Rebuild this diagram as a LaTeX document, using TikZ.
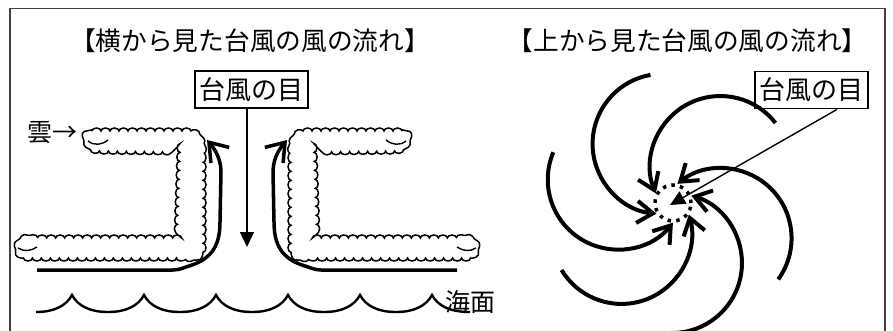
\documentclass[tikz,border=0pt]{standalone}
\usepackage{fontspec}
\newfontfamily\jpfont{Noto Sans CJK JP}
\usetikzlibrary{arrows.meta,decorations.pathmorphing,calc}

% outline of the left cloud (a "reversed C" of cumulus)
\newcommand\cloudoutline{(92,131) -- (188,131) .. controls (198,132) and (203,140) .. (203,152)
  -- (203,244) .. controls (203,254) and (198,258) .. (188,258)
  -- (30,258) .. controls (14,258) and (14,238) .. (30,238)
  -- (177,238) -- (180,152) -- (102,151) .. controls (84,151) and (82,131) .. (92,131) -- cycle}
% small curls at the ends of the cloud arms
\newcommand\cloudcurls{(88,141) .. controls (94,146) and (102,145) .. (108,140)
  (18,248) .. controls (24,252) and (31,251) .. (37,247)}
% inflow along the sea surface and up the eye wall
\newcommand\flowpath{(37,270) -- (173,270) .. controls (180,270) and (185,267) .. (192,265)
  .. controls (212,258) and (220,245) .. (220,222) -- (221,172)
  .. controls (221,157) and (213,147) .. (207,140)}
% one spiral band of the typhoon seen from above, starting at angle #1
\newcommand\windarm[1]{%
  \draw[wind] (#1:130) arc[start angle=#1, end angle=#1+165, radius=70];}

\begin{document}
\begin{tikzpicture}[x=1pt,y=-1pt,
  frame/.style={draw=black!75, line width=1.4pt},
  title/.style={font=\jpfont\fontsize{25.7}{30}\selectfont, inner sep=0pt},
  label/.style={font=\jpfont\fontsize{25}{30}\selectfont, inner sep=0pt},
  eyebox/.style={draw, line width=1.8pt, font=\jpfont\fontsize{26}{30}\selectfont,
    minimum width=113pt, minimum height=37pt, inner sep=0pt},
  pointer/.style={line width=1.4pt, -{Triangle[length=15pt,width=14pt]}},
  cloudline/.style={line width=1.5pt, decorate,
    decoration={bumps, segment length=18pt, amplitude=3pt}},
  curl/.style={line width=1.4pt},
  flow/.style={line width=3.5pt, -{Straight Barb[length=17pt,width=24pt]}},
  wind/.style={line width=4pt, -{Straight Barb[length=16pt,width=22pt]}},
  sea/.style={line width=2.4pt},
  eyering/.style={circle, draw, line width=3.5pt, dash pattern=on 3.5pt off 5.3pt,
    minimum size=36pt, inner sep=0pt},
]
\useasboundingbox (0,0) rectangle (893,331);

% frame
\draw[frame] (10,332) -- (10,8.5) -- (885,8.5) -- (885,332);

% titles
\node[title] (titleL) at (250,41) {【横から見た台風の風の流れ】};
\node[title] (titleR) at (687.5,41) {【上から見た台風の風の流れ】};

% ---- side view ----
\draw[cloudline] \cloudoutline;
\draw[curl] \cloudcurls;
\draw[flow] \flowpath;
\begin{scope}[shift={(494,0)}, xscale=-1]
  \draw[cloudline, decoration={mirror}] \cloudoutline;
  \draw[curl] \cloudcurls;
  \draw[flow] \flowpath;
\end{scope}

% sea surface
\draw[sea] (36,312) .. controls (54,312) and (66,306) .. (72,295)
  foreach \c in {72,144,216,288,360} {
    .. controls (\c+6,306) and (\c+18,312) .. (\c+36,312)
    .. controls (\c+54,312) and (\c+66,306) .. (\c+72,295) }
  .. controls (438,306) and (450,312) .. (470,312);

\node[label, anchor=west] (kumo) at (27,132.5) {雲→};
\node[label, anchor=west] (kaimen) at (445,301.5) {海面};

\node[eyebox] (eyeL) at (251.5,89.5) {台風の目};
\coordinate (eyeLtip) at (247,247);
\draw[pointer] ([xshift=-4.5pt]eyeL.south) -- (eyeLtip);

% ---- view from above ----
\begin{scope}[shift={(673,203)}, yscale=-1]
  \windarm{100}
  \windarm{38}
  \windarm{157}
  \windarm{324}
  \windarm{211}
  \windarm{269}
\end{scope}
\node[eyering] (eyeC) at (673,203) {};

\node[eyebox] (eyeR) at (811.5,90) {台風の目};
\coordinate (eyeRtip) at (670,205);
\draw[pointer] ([xshift=25.5pt]eyeR.south) -- (eyeRtip);
\end{tikzpicture}
\end{document}
